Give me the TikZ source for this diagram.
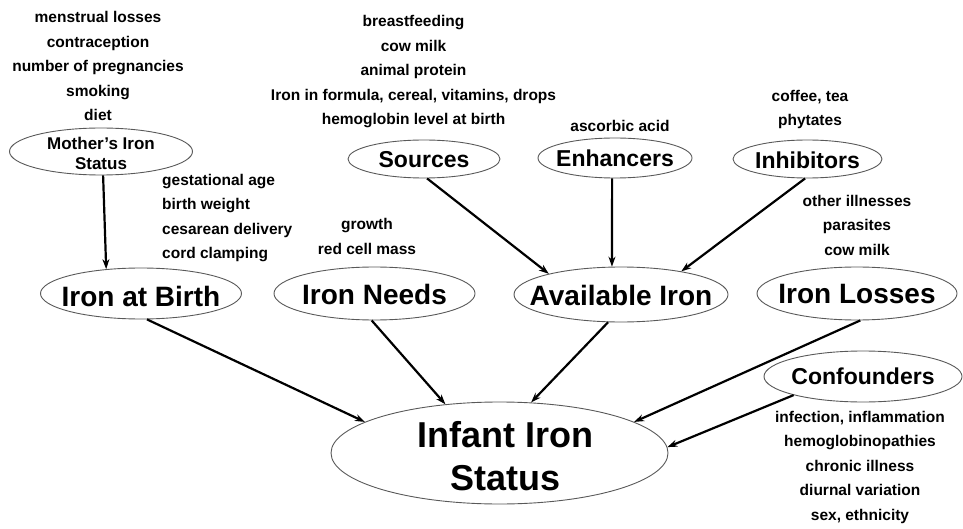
\documentclass[tikz,border=0pt]{standalone}
\usepackage{fontspec}
\setmainfont{Liberation Sans}
\usetikzlibrary{shapes.geometric,arrows.meta}
\begin{document}
\begin{tikzpicture}[x=1pt,y=-1pt,
  ell/.style={draw=black!65, line width=0.9pt, ellipse, inner sep=0pt},
  bigtxt/.style={font=\bfseries\fontsize{28}{30}\selectfont, inner sep=0pt},
  midtxt/.style={font=\bfseries\fontsize{23}{25}\selectfont, inner sep=0pt},
  smalltxt/.style={font=\bfseries\fontsize{17}{20}\selectfont, align=center, inner sep=0pt},
  hugetxt/.style={font=\bfseries\fontsize{36}{43}\selectfont, align=center, inner sep=0pt},
  lst/.style={font=\bfseries\fontsize{15.5}{24.5}\selectfont, align=center, inner sep=0pt},
  arr/.style={-{Stealth[length=10pt,width=7pt]}, line width=2.2pt, black}]
\useasboundingbox (0,0) rectangle (963,529);

% ellipses
\node[ell, minimum width=183, minimum height=47,
  label={[smalltxt, yshift=-1.5pt]center:Mother's Iron\\Status}] (mother) at (101,151.5) {};
\node[ell, minimum width=152, minimum height=38,
  label={[midtxt, yshift=-1pt]center:Sources}] (src) at (424,159) {};
\node[ell, minimum width=154, minimum height=40,
  label={[midtxt, yshift=0pt]center:Enhancers}] (enh) at (615,158) {};
\node[ell, minimum width=149, minimum height=38,
  label={[midtxt, yshift=-1pt]center:Inhibitors}] (inh) at (807.5,159) {};
\node[ell, minimum width=201, minimum height=51,
  label={[bigtxt, yshift=-2.5pt]center:Iron at Birth}] (birth) at (141,293.5) {};
\node[ell, minimum width=201, minimum height=53,
  label={[bigtxt, yshift=-1pt]center:Iron Needs}] (needs) at (374.5,293.5) {};
\node[ell, minimum width=214, minimum height=55,
  label={[bigtxt, yshift=-1pt]center:Available Iron}] (avail) at (621,294.5) {};
\node[ell, minimum width=200, minimum height=53,
  label={[bigtxt, yshift=-1pt]center:Iron Losses}] (loss) at (857,293.5) {};
\node[ell, minimum width=198, minimum height=51,
  label={[midtxt, yshift=0pt]center:Confounders}] (conf) at (863,376.5) {};
\node[ell, minimum width=337, minimum height=102,
  label={[hugetxt, xshift=6pt, yshift=-3pt]center:Infant Iron\\Status}] (inf) at (499.5,453) {};

% lists
\node[lst] (l1) at (98,66) {menstrual losses\\contraception\\number of pregnancies\\smoking\\diet};
\node[lst, align=left, anchor=west] (l2) at (162,218) {gestational age\\birth weight\\cesarean delivery\\cord clamping};
\node[lst] (l3) at (413.5,72) {breastfeeding\\cow milk\\animal protein\\Iron in formula, cereal, vitamins, drops\\hemoglobin level at birth};
\node[lst] (l4) at (620,126) {ascorbic acid};
\node[lst] (l5) at (810,109.5) {coffee, tea\\phytates};
\node[lst] (l6) at (857,225) {other illnesses\\parasites\\cow milk};
\node[lst] (l7) at (367,236.5) {growth\\red cell mass};
\node[lst] (l8) at (860,467) {infection, inflammation\\hemoglobinopathies\\chronic illness\\diurnal variation\\sex, ethnicity};

% arrows
\draw[arr] (mother.-85) -- (birth.145);
\draw[arr] (src.-81) -- (avail.164);
\draw[arr] (enh.-98) -- (avail.108);
\draw[arr] (inh.-97) -- (avail.21);
\draw[arr] (birth.-77) -- (inf.167);
\draw[arr] (needs.-96) -- (inf.138);
\draw[arr] (avail.-115) -- (inf.58);
\draw[arr] (loss.-83) -- (inf.13);
\draw[arr] (conf.195) -- (inf.2);
\end{tikzpicture}
\end{document}
